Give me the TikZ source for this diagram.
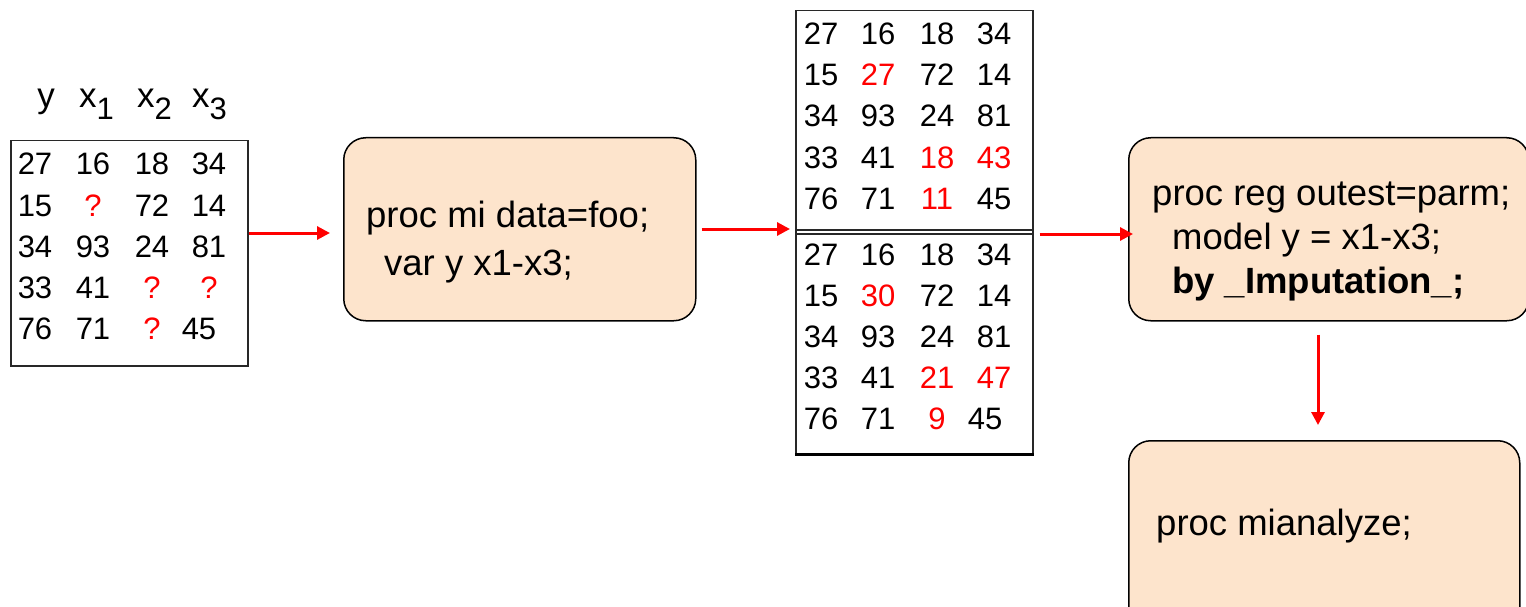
\documentclass[tikz,border=0pt]{standalone}
\usepackage{fontspec}
\setmainfont{Liberation Sans}
\usetikzlibrary{arrows.meta,calc}
\definecolor{peach}{RGB}{253,228,204}
\definecolor{framegray}{RGB}{40,40,40}
\newcommand\redv[1]{\textcolor{red}{#1}}
\newcommand\hsub[1]{\raisebox{-12pt}{\fontsize{31}{31}\selectfont #1}}
\begin{document}
\begin{tikzpicture}[x=1pt,y=-1pt,
  num/.style={anchor=base,inner sep=0pt,font=\fontsize{31}{31}\selectfont},
  hdr/.style={anchor=base west,inner sep=0pt,font=\fontsize{35}{35}\selectfont},
  code/.style={anchor=base west,inner sep=0pt,font=\fontsize{36.5}{36.5}\selectfont},
  procbox/.style={draw=black,line width=1.5pt,fill=peach,rounded corners=22pt,inner sep=0pt,anchor=north west},
  tbl/.style={draw=framegray,line width=1.5pt,inner sep=0pt,anchor=north west},
  arr/.style={red,line width=3pt,-{Triangle[length=13pt,width=13pt]}}]
\useasboundingbox (0,0) rectangle (1526,607);

% ---------- left table ----------
\node[anchor=base,inner sep=0pt,font=\fontsize{35}{35}\selectfont] (hy) at (46,108) {y};
\node[hdr] (hx1) at (79,108) {x\hsub{1}};
\node[hdr] (hx2) at (137,108) {x\hsub{2}};
\node[hdr] (hx3) at (192,108) {x\hsub{3}};
\node[tbl,minimum width=237pt,minimum height=225pt] (t1) at (10,140) {};
\foreach \a/\b/\c/\d [count=\i] in {27/16/18/34, 15/\redv{?}/72/14, 34/93/24/81, 33/41/\redv{?}/\redv{?}}{
  \node[num] (L\i a) at (35,{175+41*(\i-1)}) {\a};
  \node[num] (L\i b) at (93,{175+41*(\i-1)}) {\b};
  \node[num] (L\i c) at (152,{175+41*(\i-1)}) {\c};
  \node[num] (L\i d) at (209,{175+41*(\i-1)}) {\d};
}
\node[num] (L5a) at (35,339) {76};
\node[num] (L5b) at (93,339) {71};
\node[num] (L5c) at (152,339) {\redv{?}};
\node[num] (L5d) at (199,339) {45};

% ---------- middle table ----------
\node[tbl,minimum width=237pt,minimum height=443pt] (t2) at (795,10) {};
\coordinate (sep1) at (0,230);
\coordinate (sep2) at (0,234);
\draw[framegray,line width=1.2pt] (t2.west |- sep1) -- (t2.east |- sep1);
\draw[framegray,line width=1.2pt] (t2.west |- sep2) -- (t2.east |- sep2);
\draw[black,line width=3pt] (t2.south west) -- (t2.south east);
\foreach \a/\b/\c/\d [count=\i] in {27/16/18/34, 15/\redv{27}/72/14, 34/93/24/81, 33/41/\redv{18}/\redv{43}, 76/71/\redv{11}/45}{
  \node[num] (M\i a) at (821,{45+41*(\i-1)}) {\a};
  \node[num] (M\i b) at (878,{45+41*(\i-1)}) {\b};
  \node[num] (M\i c) at (937,{45+41*(\i-1)}) {\c};
  \node[num] (M\i d) at (994,{45+41*(\i-1)}) {\d};
}
\foreach \a/\b/\c/\d [count=\i] in {27/16/18/34, 15/\redv{30}/72/14, 34/93/24/81, 33/41/\redv{21}/\redv{47}}{
  \node[num] (N\i a) at (821,{265+41*(\i-1)}) {\a};
  \node[num] (N\i b) at (878,{265+41*(\i-1)}) {\b};
  \node[num] (N\i c) at (937,{265+41*(\i-1)}) {\c};
  \node[num] (N\i d) at (994,{265+41*(\i-1)}) {\d};
}
\node[num] (N5a) at (821,429) {76};
\node[num] (N5b) at (878,429) {71};
\node[num] (N5c) at (937,429) {\redv{9}};
\node[num] (N5d) at (985,429) {45};

% ---------- code boxes ----------
\node[procbox,minimum width=352pt,minimum height=183pt] (b1) at (343,137) {};
\node[code] (b1l1) at (366,227) {proc mi data=foo;};
\node[code] (b1l2) at (384,275) {var y x1-x3;};

\node[procbox,minimum width=400pt,minimum height=183pt] (b4) at (1128,137) {};
\node[code] (b4l1) at (1152,205) {proc reg outest=parm;};
\node[code] (b4l2) at (1172,249) {model y = x1-x3;};
\node[code,font=\fontsize{36.5}{36.5}\selectfont\bfseries] (b4l3) at (1172,293) {by \_Imputation\_;};

\node[procbox,minimum width=391pt,minimum height=200pt] (b5) at (1128,440) {};
\node[code] (b5l1) at (1156,535) {proc mianalyze;};

% ---------- arrows ----------
\coordinate (y1) at (0,233);
\coordinate (y2) at (0,229);
\coordinate (y3) at (0,234);
\coordinate (x4) at (1318,0);
\draw[arr,shorten >=13pt] (t1.east |- y1) -- (b1.west |- y1);
\draw[arr,shorten <=5pt,shorten >=5pt] (b1.east |- y2) -- (t2.west |- y2);
\draw[arr,shorten <=6pt,shorten >=-5pt] (t2.east |- y3) -- (b4.west |- y3);
\draw[arr,shorten <=13pt,shorten >=15pt] (b4.south -| x4) -- (b5.north -| x4);
\end{tikzpicture}
\end{document}
